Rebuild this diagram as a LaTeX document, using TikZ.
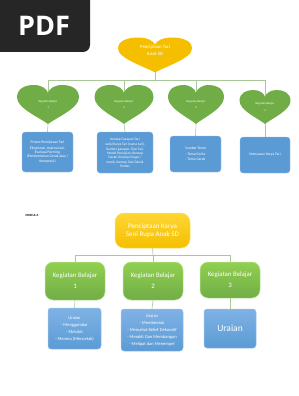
\documentclass[tikz,border=0pt]{standalone}
\usepackage{fontspec}
\setsansfont{Carlito}
\newfontfamily\badgefont{Open Sans}
\usetikzlibrary{positioning,backgrounds,calc}

\definecolor{pdfdark}{HTML}{262626}
\definecolor{gold}{HTML}{F5BF00}
\definecolor{goldtop}{HTML}{FFD633}
\definecolor{leaf}{HTML}{70AD47}
\definecolor{leaftop}{HTML}{92D050}
\definecolor{sky}{HTML}{5B9BD5}
\definecolor{skytop}{HTML}{7FB2E5}
\definecolor{skyedge}{HTML}{9DC3E6}
\definecolor{twig}{HTML}{A9C99A}

\begin{document}
\begin{tikzpicture}[x=1pt, y=-1pt,
    pics/heart/.style n args={3}{code={
        \fill[#3, x=#1, y=#2] (0,-0.5) .. controls (-0.12,-0.35) and (-0.5,-0.1) .. (-0.5,0.18)
            .. controls (-0.5,0.42) and (-0.36,0.5) .. (-0.23,0.5)
            .. controls (-0.1,0.5) and (-0.02,0.4) .. (0,0.3)
            .. controls (0.02,0.4) and (0.1,0.5) .. (0.23,0.5)
            .. controls (0.36,0.5) and (0.5,0.42) .. (0.5,0.18)
            .. controls (0.5,-0.1) and (0.12,-0.35) .. (0,-0.5) -- cycle;}},
    hearttext/.style={inner sep=0pt, align=center, text=white, font=\sffamily\fontsize{2.9}{4.5}\selectfont},
    topic/.style={fill=sky, draw=skyedge, line width=0.3pt, rounded corners=3pt, text=white, align=center, inner sep=1pt,
        font=\sffamily\fontsize{3.7}{4.4}\selectfont},
    theme/.style={top color=goldtop, bottom color=gold, draw=goldtop!70!white, line width=0.5pt, rounded corners=9pt,
        text=white, align=center, font=\sffamily\fontsize{7}{8.6}\selectfont},
    stage/.style={top color=leaftop, bottom color=leaf, draw=leaftop!60!white, line width=0.5pt, rounded corners=8pt,
        text=white, align=center, font=\sffamily\fontsize{6.8}{11}\selectfont},
    item/.style={top color=skytop, bottom color=sky, draw=skyedge, line width=0.5pt, rounded corners=3pt,
        text=white, align=center, font=\sffamily\fontsize{4.5}{7}\selectfont},
    link/.style={draw=twig, line width=0.6pt}
]
\useasboundingbox (0,0) rectangle (298,396);

% badge
\fill[pdfdark] (0,0) -- (90,0) [rounded corners=7pt] -- (90,52) [sharp corners] -- (0,52) -- cycle;
\node[text=white, font=\badgefont\bfseries\fontsize{27}{30}\selectfont] (pdf) at (44,26) {PDF};

% first chart
\pic at (155,55) {heart={74pt}{35pt}{gold}};
\pic at (48,104.5) {heart={62pt}{39pt}{leaf}};
\pic at (124,104.5) {heart={59pt}{39pt}{leaf}};
\pic at (196,104.5) {heart={56pt}{39pt}{leaf}};
\pic at (265,107) {heart={51pt}{34pt}{leaf}};

\node[hearttext, minimum width=74pt, minimum height=35pt, font=\sffamily\fontsize{4.8}{7}\selectfont] (tari) at (155,55)
    {Penciptaan Tari\\Anak SD\\[3pt]};
\node[hearttext, minimum width=62pt, minimum height=39pt] (kb1) at (48,104.5) {Kegiatan Belajar\\[2pt]1};
\node[hearttext, minimum width=59pt, minimum height=39pt] (kb2) at (124,104.5) {Kegiatan Belajar\\[2pt]2};
\node[hearttext, minimum width=56pt, minimum height=39pt] (kb3) at (196,104.5) {Kegiatan Belajar\\[2pt]3};
\node[hearttext, minimum width=51pt, minimum height=34pt] (kb4) at (265,107) {Kegiatan Belajar\\[2pt]4};

\node[topic, minimum width=51pt, minimum height=40pt] (bx1) at (47.5,152)
    {Proses Penciptaan Tari\\[1pt]Eksplorasi, Improvisasi,\\Evaluasi Forming\\(Pembentukan Gerak atau /\\Komposisi)};
\node[topic, minimum width=56pt, minimum height=41pt, font=\sffamily\fontsize{3.5}{4.3}\selectfont] (bx2) at (125,152.5)
    {Konsep Garapan Tari\\[1.5pt]Judul Karya Tari (nama tari),\\Sumber garapan, Tipe Tari,\\Model Penyajian, Konsep\\Gerak, Konsep iringan /\\musik, Konsep Tata Teknik\\Pentas};
\node[topic, minimum width=51pt, minimum height=36pt, font=\sffamily\fontsize{3.7}{5.5}\selectfont] (bx3) at (195.5,154)
    {Sumber Tema\\- Tema Cerita\\- Tema Gerak};
\node[topic, minimum width=50pt, minimum height=36pt] (bx4) at (265,155) {Menyusun Karya Tari};

\coordinate (bus) at (155,80);
\begin{scope}[on background layer]
\draw[link] (tari.center) -- (bus);
\foreach \k in {kb1,kb2,kb3,kb4}
    \draw[link] (bus) -| (\k.center);
\draw[link] (kb1.south) -- (bx1.north);
\draw[link] (kb2.south) -- (bx2.north);
\draw[link] (kb3.south) -- (bx3.north);
\draw[link] (kb4.south) -- (bx4.north);
\end{scope}

% second chart
\node[anchor=west, font=\sffamily\bfseries\fontsize{3.2}{4}\selectfont] (modul) at (22,215) {MODUL 6};

\node[theme, minimum width=75pt, minimum height=35pt] (rupa) at (152.5,230.5) {Penciptaan Karya\\Seni Rupa Anak SD};
\node[stage, minimum width=60pt, minimum height=38pt] (g1) at (75,281) {Kegiatan Belajar\\1};
\node[stage, minimum width=60pt, minimum height=38pt] (g2) at (153,281) {Kegiatan Belajar\\2};
\node[stage, minimum width=60pt, minimum height=36pt] (g3) at (230,280) {Kegiatan Belajar\\3};

\node[item, minimum width=53pt, minimum height=41pt] (u1) at (74.5,328.5)
    {Uraian\\- Menggambar\\- Melukis\\- Menera (Mencetak)};
\node[item, minimum width=62pt, minimum height=42pt] (u2) at (152,330)
    {Uraian\\- Membentuk\\- Memahat Relief Dekoratif\\- Merakit Dan Membangun\\- Melipat dan Menempel};
\node[item, minimum width=52pt, minimum height=39pt, font=\sffamily\fontsize{9.5}{11}\selectfont] (u3) at (230,328.5) {Uraian};

\coordinate (bus2) at (153,255);
\begin{scope}[on background layer]
\draw[link] (rupa.south) -- (bus2);
\draw[link] (bus2) -| (g1.north);
\draw[link] (bus2) -| (g3.north);
\draw[link] (bus2) -- (g2.north);
\draw[link] (g1.south) -- (u1.north);
\draw[link] (g2.south) -- (u2.north);
\draw[link] (g3.south) -- (u3.north);
\end{scope}
\end{tikzpicture}
\end{document}
